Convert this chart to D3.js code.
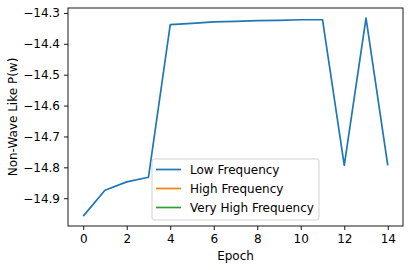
<!DOCTYPE html>
<html>
<head>
<meta charset="utf-8">
<script src="https://cdn.jsdelivr.net/npm/d3@7"></script>
<style>
body { margin: 0; background: #fff; }
text { font-family: "DejaVu Sans", sans-serif; }
</style>
</head>
<body>
<script>
var svgWidth = 409;
var svgHeight = 270;

// data
var epochs = [0, 1, 2, 3, 4, 5, 6, 7, 8, 9, 10, 11, 12, 13, 14];
var lowFreq = [-14.958, -14.874, -14.847, -14.832, -14.338, -14.334, -14.329, -14.327, -14.325, -14.324, -14.322, -14.322, -14.794, -14.317, -14.794];
var highFreq = [];
var veryHighFreq = [];
var seriesNames = ["Low Frequency", "High Frequency", "Very High Frequency"];
var seriesColors = ["#1f77b4", "#ff7f0e", "#2ca02c"];
var xTicks = [0, 2, 4, 6, 8, 10, 12, 14];
var yTicks = [-14.9, -14.8, -14.7, -14.6, -14.5, -14.4, -14.3];

var margin = {left: 68, top: 8, right: 6, bottom: 44};
var plotW = svgWidth - margin.left - margin.right;
var plotH = svgHeight - margin.top - margin.bottom;
var fontSize = "12px";

var svg = d3.select("body").append("svg").attr("width", svgWidth).attr("height", svgHeight);
var g = svg.append("g").attr("transform", "translate(" + margin.left + "," + margin.top + ")");

var x = d3.scaleLinear().domain([-0.7, 14.7]).range([0, plotW]);
var y = d3.scaleLinear().domain([-14.99, -14.284]).range([plotH, 0]);

// series
var allSeries = [lowFreq, highFreq, veryHighFreq];
var line = d3.line()
    .x(function(d, i) { return x(epochs[i]); })
    .y(function(d) { return y(d); });

allSeries.forEach(function(s, i) {
    if (s.length === 0) return;
    g.append("path")
        .attr("d", line(s))
        .attr("fill", "none")
        .attr("stroke", seriesColors[i])
        .attr("stroke-width", 1.7)
        .attr("stroke-linejoin", "round");
});

// axes
var xAxis = g.append("g").attr("transform", "translate(0," + plotH + ")")
    .call(d3.axisBottom(x).tickValues(xTicks).tickSize(4).tickPadding(4).tickFormat(d3.format("d")));
var yAxis = g.append("g")
    .call(d3.axisLeft(y).tickValues(yTicks).tickSize(4).tickPadding(4)
        .tickFormat(function(d) { return d3.format(".1f")(d).replace("-", "\u2212"); }));

[xAxis, yAxis].forEach(function(a) {
    a.select(".domain").remove();
    a.selectAll("line").attr("stroke", "#000").attr("stroke-width", 0.9);
    a.selectAll("text").attr("font-size", fontSize).attr("font-family", "DejaVu Sans").attr("fill", "#000");
});

// frame
g.append("rect")
    .attr("width", plotW).attr("height", plotH)
    .attr("fill", "none").attr("stroke", "#000").attr("stroke-width", 0.9);

// axis labels
svg.append("text")
    .attr("x", margin.left + plotW / 2).attr("y", 260)
    .attr("text-anchor", "middle").attr("font-size", fontSize)
    .text("Epoch");
svg.append("text")
    .attr("transform", "translate(17," + (margin.top + plotH / 2) + ") rotate(-90)")
    .attr("text-anchor", "middle").attr("font-size", fontSize)
    .text("Non-Wave Like P(w)");

// legend
var legend = svg.append("g").attr("transform", "translate(152,159)");
legend.append("rect")
    .attr("width", 167).attr("height", 61).attr("rx", 2.5)
    .attr("fill", "#fff").attr("fill-opacity", 0.8)
    .attr("stroke", "#ccc").attr("stroke-width", 0.9);
seriesNames.forEach(function(name, i) {
    var row = legend.append("g").attr("transform", "translate(0," + (10.5 + i * 19) + ")");
    row.append("line")
        .attr("x1", 4).attr("x2", 29)
        .attr("stroke", seriesColors[i]).attr("stroke-width", 1.7);
    row.append("text")
        .attr("x", 38).attr("y", 4.2)
        .attr("font-size", fontSize)
        .text(name);
});
</script>
</body>
</html>
